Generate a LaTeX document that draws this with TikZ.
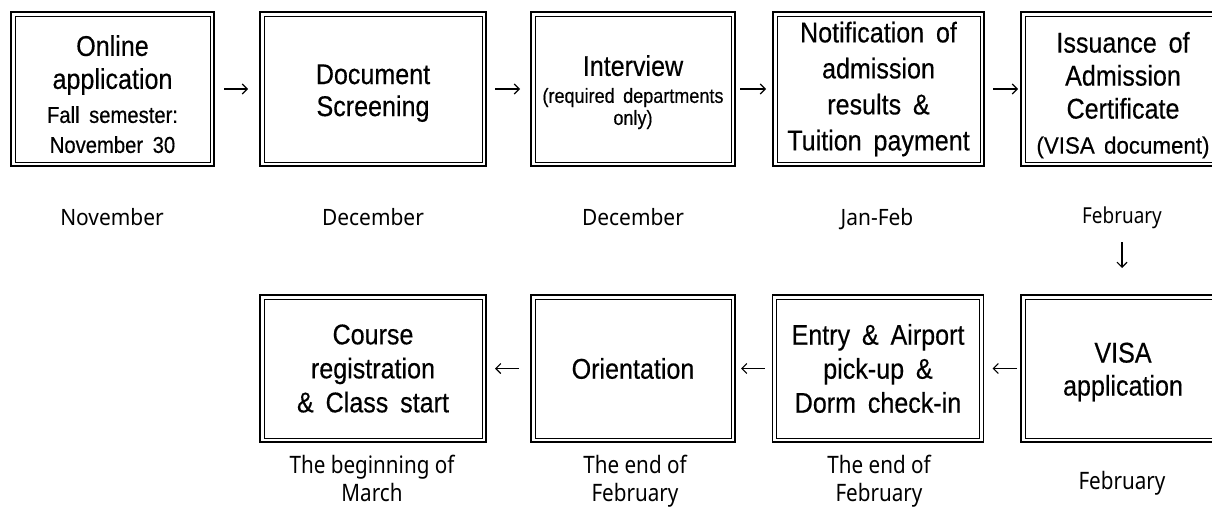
\documentclass[tikz,border=0pt]{standalone}
\usepackage{fontspec}
\usetikzlibrary{arrows.meta}
\newfontfamily\boxfont[FakeStretch=0.88,WordSpace=1.7,FakeBold=0.4]{Liberation Sans}
\newfontfamily\boxfontw[FakeStretch=0.95,WordSpace=1.5,FakeBold=0.4]{Liberation Sans}
\newfontfamily\labfont[FakeStretch=0.93]{Noto Sans}
\newfontfamily\labcfont[FakeStretch=0.86]{Noto Sans}
\newcommand\BoxL{\boxfont\fontsize{28.5}{34}\selectfont}
\newcommand\BoxS{\boxfont\fontsize{23}{28}\selectfont}
\newcommand\BoxW{\boxfontw\fontsize{23.5}{28}\selectfont}
\newcommand\BoxT{\boxfont\fontsize{20.5}{23}\selectfont}
\newcommand\LabT{\labfont\fontsize{22.5}{27}\selectfont}
\newcommand\LabC{\labcfont\fontsize{24}{28}\selectfont}
\newcommand\LabF{\labcfont\fontsize{22}{26}\selectfont}
\newcommand\Up[1]{\rule{0pt}{#1}}
\tikzset{
  stagebox/.style={minimum width=#1, inner sep=0pt, outer sep=0pt, align=center, font=\BoxL},
  toprow/.style={minimum height=154},
  botrow/.style={minimum height=147},
  frameout/.style={line width=1.8pt, black},
  framein/.style={line width=0.9pt, black},
  arr/.style={line width=1.1pt, -{Straight Barb[length=5pt,width=10pt]}},
  toplab/.style={inner sep=0pt, outer sep=0pt, anchor=base, font=\LabT},
  botlab/.style={inner sep=0pt, outer sep=0pt, anchor=north, align=center, font=\LabC},
}
\begin{document}
\begin{tikzpicture}[x=1pt,y=-1pt]
\useasboundingbox (0,0) rectangle (1212,509);
\clip (0,0) rectangle (1212,509);
% top row
\node[stagebox=203, toprow] (b1) at (112.5,89)
  {\BoxL\Up{31pt}Online\\[-1pt] \BoxL application\\[0pt] \BoxS Fall semester:\\[-4pt] \BoxS November 30};
\node[stagebox=226, toprow] (b2) at (373,89)
  {\BoxL\Up{28pt}Document\\[-2pt] \BoxL Screening};
\node[stagebox=204, toprow] (b3) at (633,89)
  {\BoxL\Up{27pt}Interview\\[-7pt] \BoxT (required departments\\[-12pt] \BoxT only)};
\node[stagebox=211, toprow] (b4) at (878.5,89)
  {\BoxL Notification of\\[2pt] \BoxL admission\\[2pt] \BoxL results \&\\[2pt] \BoxL Tuition payment};
\node[stagebox=204, toprow] (b5) at (1123,89)
  {\BoxL\Up{33pt}Issuance of\\[-1pt] \BoxL Admission\\[-1pt] \BoxL Certificate\\[1pt] \BoxW (VISA document)};
% bottom row
\node[stagebox=226, botrow] (c2) at (373,368.5)
  {\BoxL Course\\ \BoxL registration\\ \BoxL \& Class start};
\node[stagebox=204, botrow] (c3) at (633,368.5)
  {\BoxL Orientation};
\node[stagebox=211, botrow] (c4) at (878,368.5)
  {\BoxL Entry \& Airport\\ \BoxL pick-up \&\\ \BoxL Dorm check-in};
\node[stagebox=204, botrow] (c5) at (1123,368.5)
  {\BoxL\Up{27pt}VISA\\[-1pt] \BoxL application};
% frames
\foreach \n in {b1,b2,b3,b4,b5,c2,c3,c4,c5}{
  \draw[frameout] (\n.north west) rectangle (\n.south east);
  \draw[framein] ([xshift=4pt,yshift=-4pt]\n.north west) rectangle ([xshift=-4pt,yshift=4pt]\n.south east);
}
% labels top
\node[toplab] (l1) at (112,225) {November};
\node[toplab] (l2) at (373,225) {December};
\node[toplab] (l3) at (633,225) {December};
\node[toplab] (l4) at (877,225) {Jan-Feb};
\node[toplab, font=\LabF] (l5) at (1122,223) {February};
% labels bottom
\node[botlab] (m2) at (372,455) {The beginning of\\March};
\node[botlab] (m3) at (635,455) {The end of\\February};
\node[botlab] (m4) at (879,455) {The end of\\February};
\node[botlab] (m5) at (1122,471) {February};
% arrows top
\draw[arr, shorten <=10pt, shorten >=12pt] (b1.east) -- (b2.west);
\draw[arr, shorten <=9pt, shorten >=11pt] (b2.east) -- (b3.west);
\draw[arr, shorten <=5pt, shorten >=7pt] (b3.east) -- (b4.west);
\draw[arr, shorten <=9pt, shorten >=3pt] (b4.east) -- (b5.west);
% down arrow
\draw[arr, shorten <=14pt, shorten >=27pt] (l5.south) -- (l5.south |- c5.north);
% arrows bottom
\draw[arr, shorten <=4pt, shorten >=9pt] (c5.west) -- (c4.east);
\draw[arr, shorten <=8pt, shorten >=6pt] (c4.west) -- (c3.east);
\draw[arr, shorten <=12pt, shorten >=9pt] (c3.west) -- (c2.east);
\end{tikzpicture}
\end{document}
